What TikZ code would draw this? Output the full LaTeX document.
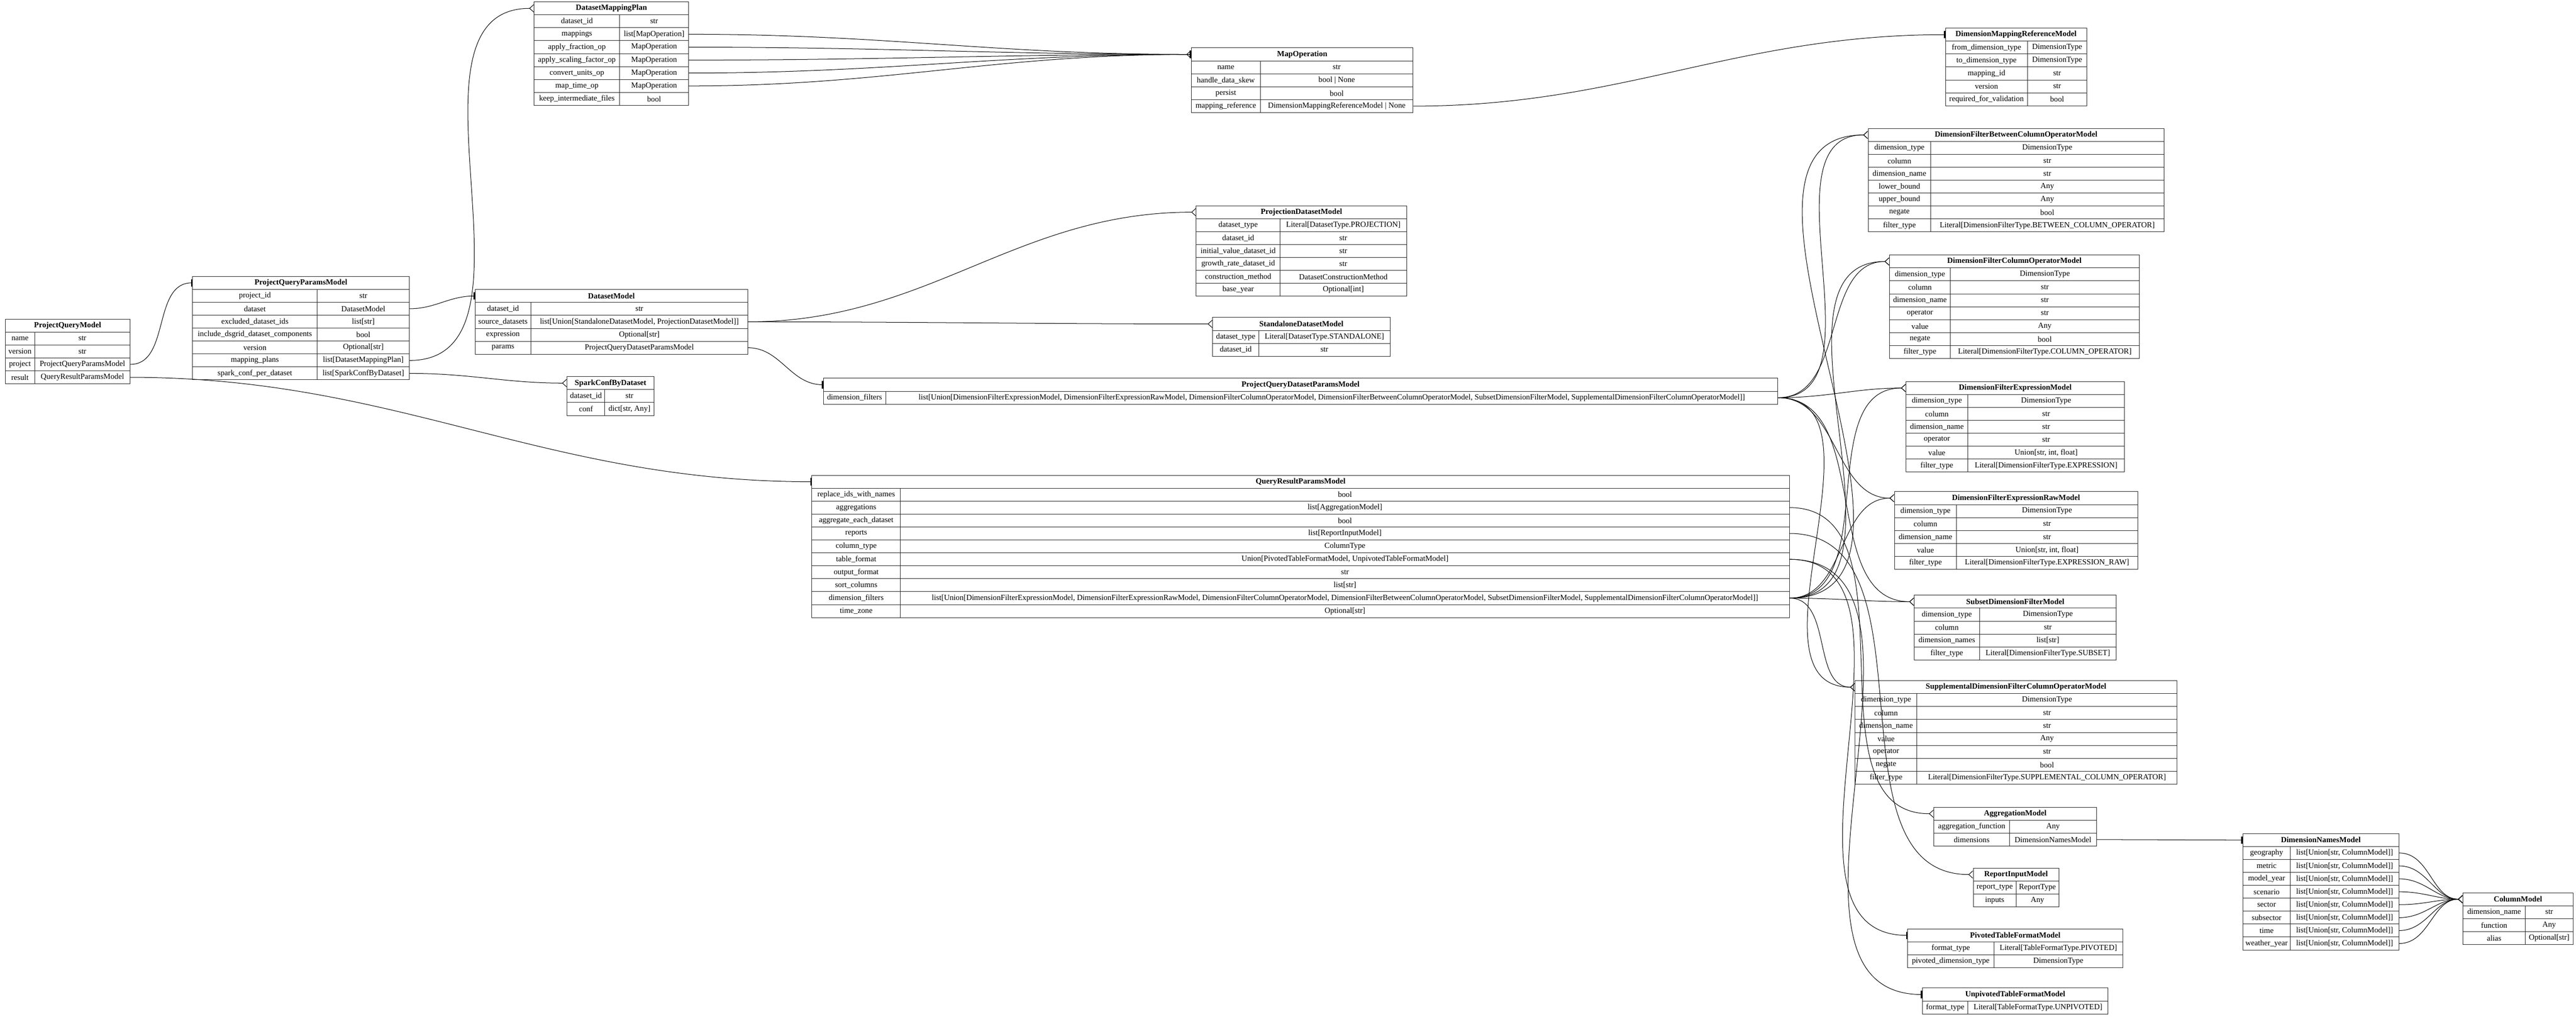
\documentclass[tikz,border=0pt]{standalone}
\usepackage{fontspec}
\setmainfont{Liberation Serif}
\usetikzlibrary{arrows.meta}
\newcommand\dflist{list[Union[DimensionFilterExpressionModel, DimensionFilterExpressionRawModel, DimensionFilterColumnOperatorModel, DimensionFilterBetweenColumnOperatorModel, SubsetDimensionFilterModel, SupplementalDimensionFilterColumnOperatorModel]]}
\newcommand\lucm{list[Union[str, ColumnModel]]}
\tikzset{
  tblcell/.style={draw=black!85, line width=0.28pt, anchor=north west, inner sep=0pt, minimum height=7pt, font=\fontsize{4.25}{4.8}\selectfont},
  tbltitle/.style={tblcell, font=\fontsize{4.25}{4.8}\selectfont\bfseries},
  link/.style={line width=0.28pt, draw=black},
  many/.style={link, -{Straight Barb[reversed,length=2.2pt,width=4pt,line width=0.28pt]}},
  one/.style={link, -{Bar[width=4pt,line width=0.35pt]Bar[width=4pt,line width=0.35pt]}}
}
\newcommand\ertable[7]{%
  \node[tbltitle, minimum width={(#4+#5)*0.8895pt}] (#1) at (#2,#3) {#6};
  \foreach \k/\v [count=\i] in {#7} {
    \node[tblcell, minimum width={#4*0.8895pt}] (#1-k\i) at (#2,{#3+\i*7.87}) {\k};
    \node[tblcell, minimum width={#5*0.8895pt}] (#1-v\i) at ({#2+#4},{#3+\i*7.87}) {\v};
  }%
}
\begin{document}
\begin{tikzpicture}[x=0.8895pt,y=-0.8895pt]
\useasboundingbox (0,0) rectangle (1568,619.7);
\ertable{PQM}{3}{194}{18}{58}{ProjectQueryModel}{name/str, version/str, project/ProjectQueryParamsModel, result/QueryResultParamsModel}
\ertable{PQPM}{117}{168}{76}{56}{ProjectQueryParamsModel}{project\_id/str, dataset/DatasetModel, excluded\_dataset\_ids/list[str], include\_dsgrid\_dataset\_components/bool, version/Optional[str], mapping\_plans/list[DatasetMappingPlan], spark\_conf\_per\_dataset/list[SparkConfByDataset]}
\ertable{DMP}{325}{1}{52}{42}{DatasetMappingPlan}{dataset\_id/str, mappings/list[MapOperation], apply\_fraction\_op/MapOperation, apply\_scaling\_factor\_op/MapOperation, convert\_units\_op/MapOperation, map\_time\_op/MapOperation, keep\_intermediate\_files/bool}
\ertable{DM}{289}{176}{34}{132}{DatasetModel}{dataset\_id/str, source\_datasets/{list[Union[StandaloneDatasetModel, ProjectionDatasetModel]]}, expression/Optional[str], params/ProjectQueryDatasetParamsModel}
\ertable{SCD}{345}{229}{23}{30}{SparkConfByDataset}{dataset\_id/str, conf/{dict[str, Any]}}
\ertable{MO}{725}{29}{42}{93}{MapOperation}{name/str, handle\_data\_skew/bool | None, persist/bool, mapping\_reference/DimensionMappingReferenceModel | None}
\ertable{DMRM}{1184}{17}{50}{36}{DimensionMappingReferenceModel}{from\_dimension\_type/DimensionType, to\_dimension\_type/DimensionType, mapping\_id/str, version/str, required\_for\_validation/bool}
\ertable{PDM}{728}{125}{51}{77}{ProjectionDatasetModel}{dataset\_type/Literal[DatasetType.PROJECTION], dataset\_id/str, initial\_value\_dataset\_id/str, growth\_rate\_dataset\_id/str, construction\_method/DatasetConstructionMethod, base\_year/Optional[int]}
\ertable{SDM}{738}{193}{28}{80}{StandaloneDatasetModel}{dataset\_type/Literal[DatasetType.STANDALONE], dataset\_id/str}
\ertable{PQDPM}{501}{230}{38}{543}{ProjectQueryDatasetParamsModel}{dimension\_filters/{\dflist}}
\ertable{QRPM}{494}{289}{54}{541}{QueryResultParamsModel}{replace\_ids\_with\_names/bool, aggregations/list[AggregationModel], aggregate\_each\_dataset/bool, reports/list[ReportInputModel], column\_type/ColumnType, table\_format/{Union[PivotedTableFormatModel, UnpivotedTableFormatModel]}, output\_format/str, sort\_columns/list[str], dimension\_filters/{\dflist}, time\_zone/Optional[str]}
\ertable{DFBCOM}{1137}{78}{38}{142}{DimensionFilterBetweenColumnOperatorModel}{dimension\_type/DimensionType, column/str, dimension\_name/str, lower\_bound/Any, upper\_bound/Any, negate/bool, filter\_type/Literal[DimensionFilterType.BETWEEN\_COLUMN\_OPERATOR]}
\ertable{DFCOM}{1150}{155}{37}{115}{DimensionFilterColumnOperatorModel}{dimension\_type/DimensionType, column/str, dimension\_name/str, operator/str, value/Any, negate/bool, filter\_type/Literal[DimensionFilterType.COLUMN\_OPERATOR]}
\ertable{DFEM}{1160}{232}{37.6}{95.4}{DimensionFilterExpressionModel}{dimension\_type/DimensionType, column/str, dimension\_name/str, operator/str, value/{Union[str, int, float]}, filter\_type/Literal[DimensionFilterType.EXPRESSION]}
\ertable{DFERM}{1153}{299}{37.7}{110.3}{DimensionFilterExpressionRawModel}{dimension\_type/DimensionType, column/str, dimension\_name/str, value/{Union[str, int, float]}, filter\_type/Literal[DimensionFilterType.EXPRESSION\_RAW]}
\ertable{SDFM}{1165}{362}{39.7}{83.3}{SubsetDimensionFilterModel}{dimension\_type/DimensionType, column/str, dimension\_names/list[str], filter\_type/Literal[DimensionFilterType.SUBSET]}
\ertable{SUP}{1129}{414}{37.7}{158.3}{SupplementalDimensionFilterColumnOperatorModel}{dimension\_type/DimensionType, column/str, dimension\_name/str, value/Any, operator/str, negate/bool, filter\_type/Literal[DimensionFilterType.SUPPLEMENTAL\_COLUMN\_OPERATOR]}
\ertable{AGG}{1177}{491}{46}{53}{AggregationModel}{aggregation\_function/Any, dimensions/DimensionNamesModel}
\ertable{RIM}{1201}{528}{26}{26}{ReportInputModel}{report\_type/ReportType, inputs/Any}
\ertable{PTFM}{1161}{565}{52.5}{78.5}{PivotedTableFormatModel}{format\_type/Literal[TableFormatType.PIVOTED], pivoted\_dimension\_type/DimensionType}
\ertable{UTFM}{1170}{601}{27.7}{85.3}{UnpivotedTableFormatModel}{format\_type/Literal[TableFormatType.UNPIVOTED]}
\ertable{DNM}{1365}{507}{29}{66}{DimensionNamesModel}{geography/{\lucm}, metric/{\lucm}, model\_year/{\lucm}, scenario/{\lucm}, sector/{\lucm}, subsector/{\lucm}, time/{\lucm}, weather\_year/{\lucm}}
\ertable{CM}{1499}{543}{38}{29}{ColumnModel}{dimension\_name/str, function/Any, alias/Optional[str]}
% connectors
\draw[one] (PQM-v3.east) to[out=0,in=180] (PQPM.west);
\draw[one] (PQM-v4.east) to[out=0,in=180] (QRPM.west);
\draw[one] (PQPM-v2.east) to[out=0,in=180] (DM.west);
\draw[many] (PQPM-v6.east) to[out=0,in=180] (DMP.west);
\draw[many] (PQPM-v7.east) to[out=0,in=180] (SCD.west);
\draw[many] (DMP-v2.east) to[out=0,in=180] (MO.west);
\foreach \r in {3,4,5,6} \draw[one] (DMP-v\r.east) to[out=0,in=180] (MO.west);
\draw[one] (MO-v4.east) to[out=0,in=180] (DMRM.west);
\draw[many] (DM-v2.east) to[out=0,in=180] (PDM.west);
\draw[many] (DM-v2.east) to[out=0,in=180] (SDM.west);
\draw[one] (DM-v4.east) to[out=0,in=180] (PQDPM.west);
\foreach \t in {DFBCOM,DFCOM,DFEM,DFERM,SDFM,SUP} {
  \draw[many] (PQDPM-v1.east) to[out=0,in=180] (\t.west);
  \draw[many] (QRPM-v9.east) to[out=0,in=180] (\t.west);
}
\draw[many] (QRPM-v2.east) to[out=0,in=180] (AGG.west);
\draw[many] (QRPM-v4.east) to[out=0,in=180] (RIM.west);
\draw[one] (QRPM-v6.east) to[out=0,in=180] (PTFM.west);
\draw[one] (QRPM-v6.east) to[out=0,in=180] (UTFM.west);
\draw[one] (AGG-v2.east) to[out=0,in=180] (DNM.west);
\foreach \r in {1,...,8} \draw[many] (DNM-v\r.east) to[out=0,in=180] (CM.west);
\end{tikzpicture}
\end{document}
